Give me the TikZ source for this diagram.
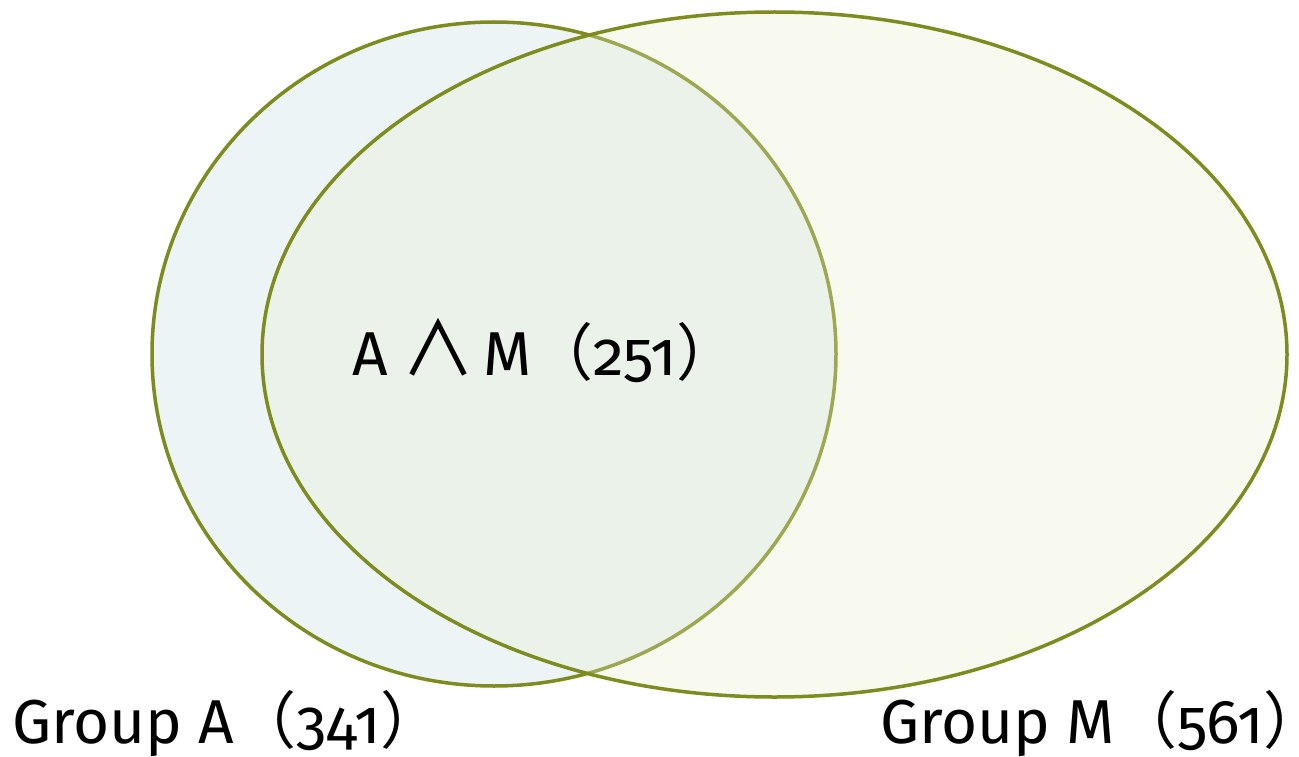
\documentclass[tikz,border=0pt]{standalone}
\usepackage{fontspec}
\setmainfont[Numbers=OldStyle]{Fira Sans}
\newfontfamily\cjk{Noto Sans CJK SC}
\usetikzlibrary{positioning, shapes.geometric}
\definecolor{vnolive}{HTML}{7E8B1F}
\definecolor{vnblue}{HTML}{EDF4F6}
\definecolor{vnyellow}{HTML}{E8EECD}

\begin{document}
\begin{tikzpicture}[x=1pt, y=-1pt,
        setA/.style={ellipse, draw=vnolive, line width=3.5pt, fill=vnblue, inner sep=0pt},
        setM/.style={ellipse, draw=vnolive, line width=3.5pt, fill=vnyellow, fill opacity=0.3,
                     draw opacity=1, inner sep=0pt},
        lbl/.style={anchor=base west, inner sep=0pt, font=\fontsize{62}{68}\selectfont}
    ]
    \useasboundingbox (0,0) rectangle (1299,757);

    % Sets
    \node[setA, minimum width=684pt, minimum height=664pt] (grpA) at (494,354) {};
    \node[setM, minimum width=1025pt, minimum height=685pt] (grpM) at (774.5,354.5) {};

    % Labels
    \node[lbl] (both) at (352,375)
        {A\hspace{14pt}{\cjk\fontsize{74}{74}\selectfont ∧}\hspace{8pt}M{\cjk （}251{\cjk ）}};
    \node[lbl] (labA) at (12,743)  {Group A{\cjk （}341{\cjk ）}};
    \node[lbl] (labM) at (880,743) {Group M{\cjk （}561{\cjk ）}};
\end{tikzpicture}
\end{document}
